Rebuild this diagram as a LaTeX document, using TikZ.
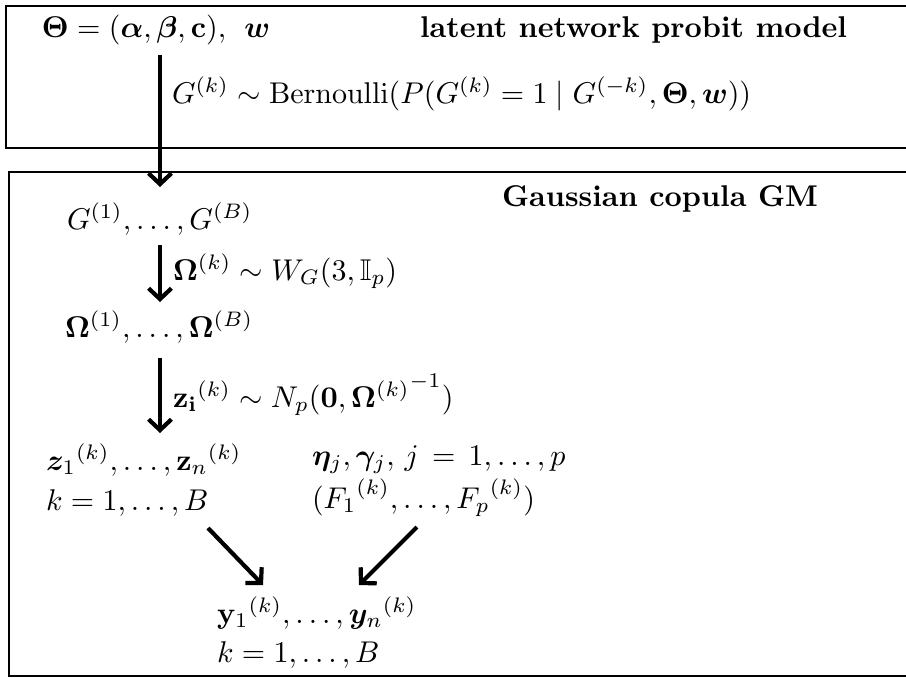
\documentclass[tikz,border=0pt]{standalone}
\usepackage{amsmath,amssymb,bm}
\usetikzlibrary{arrows.meta}
\begin{document}
\begin{tikzpicture}[x=0.3333pt,y=-0.3333pt,
  txt/.style={anchor=base west,inner sep=0pt,outer sep=0pt},
  blk/.style={txt,align=left},
  frame/.style={draw,line width=0.5pt},
  arr/.style={line width=1.4pt,-{Straight Barb[length=3.6pt,width=7.6pt]}}]
\clip (0,0) rectangle (906,677);
\fill[white] (0,0) rectangle (906,677);
% frames
\draw[frame] (6,6) rectangle (920,148);
\draw[frame] (9,172) rectangle (920,676);
% top box
\node[txt] (theta) at (42,38) {$\boldsymbol{\Theta}=(\boldsymbol{\alpha},\boldsymbol{\beta},\mathbf{c}),\;\,\boldsymbol{w}$};
\node[txt] (latent) at (420,38) {\textbf{latent network probit model}};
\node[txt] (bern) at (172,103) {$G^{(k)}\sim\mathrm{Bernoulli}(P(G^{(k)}=1\mid G^{(-k)},\boldsymbol{\Theta},\boldsymbol{w}))$};
% bottom box
\node[txt] (gauss) at (502,206) {\textbf{Gaussian copula GM}};
\node[txt] (g1b) at (67,229) {$G^{(1)},\ldots,G^{(B)}$};
\node[txt] (omlab) at (173,280) {$\boldsymbol{\Omega}^{(k)}\sim W_G(3,\mathbb{I}_p)$};
\node[txt] (om1b) at (65,337) {$\boldsymbol{\Omega}^{(1)},\ldots,\boldsymbol{\Omega}^{(B)}$};
\node[txt] (zlab) at (173,407) {$\mathbf{z_i}^{(k)}\sim N_p(\mathbf{0},{\boldsymbol{\Omega}^{(k)}}^{-1})$};
\node[blk] (zl) at (46,510) {${\boldsymbol{z}_1}^{(k)},\ldots,{\mathbf{z}_n}^{(k)}$\\[1.3pt] $k=1,\ldots,B$};
\node[blk] (eta) at (312,508) {$\boldsymbol{\eta}_j,\boldsymbol{\gamma}_j,\,j\,=\,1,\ldots,p$\\[0.7pt] $({F_1}^{(k)},\ldots,{F_p}^{(k)})$};
\node[blk] (yl) at (217,662) {${\mathbf{y}_1}^{(k)},\ldots,{\boldsymbol{y}_n}^{(k)}$\\[1pt] $k=1,\ldots,B$};
% arrows
\coordinate (a1s) at (160,55);
\coordinate (a1e) at (160,187);
\coordinate (a2s) at (160,245);
\coordinate (a2e) at (160,302);
\coordinate (a3s) at (160,358);
\coordinate (a3e) at (160,433);
\coordinate (d1s) at (208,528);
\coordinate (d1e) at (263,585);
\coordinate (d2s) at (417,527);
\coordinate (d2e) at (359,585);
\draw[arr] (a1s) -- (a1e);
\draw[arr] (a2s) -- (a2e);
\draw[arr] (a3s) -- (a3e);
\draw[arr] (d1s) -- (d1e);
\draw[arr] (d2s) -- (d2e);
\end{tikzpicture}
\end{document}
